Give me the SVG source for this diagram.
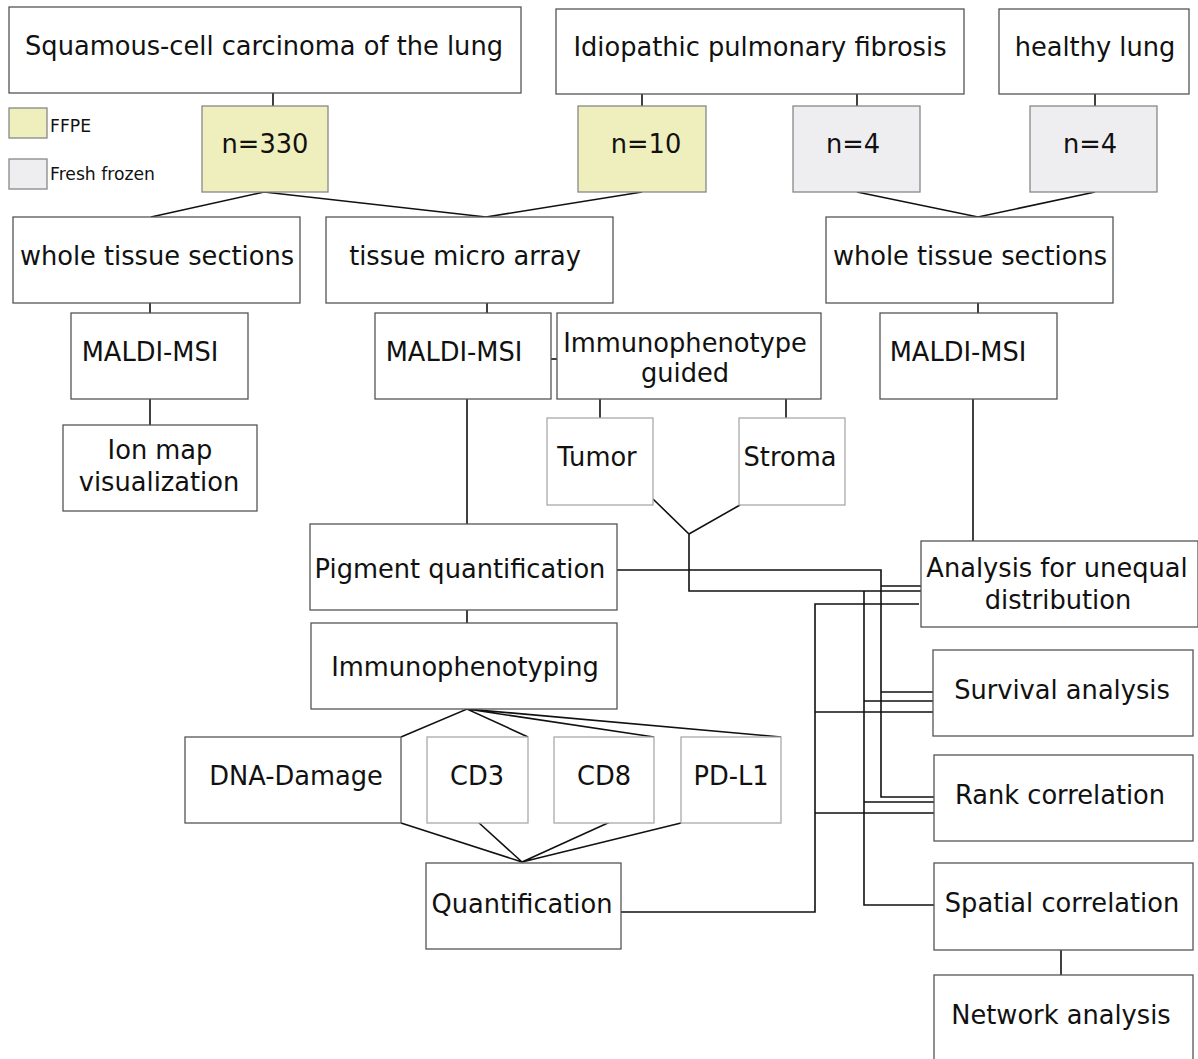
<svg xmlns="http://www.w3.org/2000/svg" width="1198" height="1059" viewBox="0 0 1198 1059">
<style>
.b{fill:#fff;stroke:#555;stroke-width:1.3}
.l{fill:#fff;stroke:#aaa;stroke-width:1.3}
.ffpe{fill:#efefbe;stroke:#888;stroke-width:1.3}
.ff{fill:#eeeef0;stroke:#888;stroke-width:1.3}
text{font-family:"DejaVu Sans",Verdana,sans-serif;font-size:25.7px;fill:#111;text-anchor:middle}
.sm{font-size:17.2px;text-anchor:start}
.c{fill:none;stroke:#111;stroke-width:1.6}
</style>
<rect width="1198" height="1059" fill="#fff"/>
<g id="connectors" class="c">
<path d="M273 93V106M642 94V106M857 94V106M1095 94V106"/>
<path d="M151 217L264 192L486 217L642 192"/>
<path d="M857 192L978 217L1095 192"/>
<path d="M150 303V313M487 303V313M978 303V313"/>
<path d="M150 399V425"/>
<path d="M551 359H557"/>
<path d="M600 399V418M786 399V418"/>
<path d="M467 399V524M467 610V623"/>
<path d="M973 399V541"/>
<path d="M401 737L467 709L528 737M467 709L654 737M467 709L781 737"/>
<path d="M401 823L522 862L478 822M522 862L610 822M522 862L681 823"/>
<path d="M653 499L689 534L740 505M689 534V591H921"/>
<path d="M617 570H881V797H934M881 586H921M881 692H933"/>
<path d="M864 591V905H934M864 701H933M864 802H934"/>
<path d="M621 912H815V604H919M815 712H933M815 813H934"/>
<path d="M1061 950V975"/>
</g>
<g id="legend">
<rect x="9" y="108" width="38" height="30" class="ffpe"/>
<text x="50" y="132" class="sm">FFPE</text>
<rect x="9" y="159" width="38" height="30" class="ff"/>
<text x="50" y="180" class="sm">Fresh frozen</text>
</g>
<g id="squamous"><rect x="9" y="7" width="512" height="86" class="b"/><text x="264" y="55">Squamous-cell carcinoma of the lung</text></g>
<g id="ipf"><rect x="556" y="9" width="408" height="85" class="b"/><text x="760" y="56">Idiopathic pulmonary fibrosis</text></g>
<g id="healthy"><rect x="999" y="9" width="190" height="85" class="b"/><text x="1095" y="56">healthy lung</text></g>
<g id="n330"><rect x="202" y="106" width="126" height="86" class="ffpe"/><text x="265" y="153">n=330</text></g>
<g id="n10"><rect x="578" y="106" width="128" height="86" class="ffpe"/><text x="646" y="153">n=10</text></g>
<g id="n4a"><rect x="793" y="106" width="127" height="86" class="ff"/><text x="853" y="153">n=4</text></g>
<g id="n4b"><rect x="1030" y="106" width="127" height="86" class="ff"/><text x="1090" y="153">n=4</text></g>
<g id="wts1"><rect x="13" y="217" width="287" height="86" class="b"/><text x="157" y="265">whole tissue sections</text></g>
<g id="tma"><rect x="326" y="217" width="287" height="86" class="b"/><text x="465" y="265">tissue micro array</text></g>
<g id="wts2"><rect x="826" y="217" width="287" height="86" class="b"/><text x="970" y="265">whole tissue sections</text></g>
<g id="maldi1"><rect x="71" y="313" width="177" height="86" class="b"/><text x="150" y="361">MALDI-MSI</text></g>
<g id="maldi2"><rect x="375" y="313" width="176" height="86" class="b"/><text x="454" y="361">MALDI-MSI</text></g>
<g id="immunoguided"><rect x="557" y="313" width="264" height="86" class="b"/><text x="685" y="352">Immunophenotype</text><text x="685" y="382">guided</text></g>
<g id="maldi3"><rect x="880" y="313" width="177" height="86" class="b"/><text x="958" y="361">MALDI-MSI</text></g>
<g id="ionmap"><rect x="63" y="425" width="194" height="86" class="b"/><text x="160" y="459">Ion map</text><text x="159" y="491">visualization</text></g>
<g id="tumor"><rect x="547" y="418" width="106" height="87" class="l"/><text x="597" y="466">Tumor</text></g>
<g id="stroma"><rect x="739" y="418" width="106" height="87" class="l"/><text x="790" y="466">Stroma</text></g>
<g id="pigment"><rect x="310" y="524" width="307" height="86" class="b"/><text x="460" y="578">Pigment quantification</text></g>
<g id="analysis"><rect x="921" y="541" width="277" height="86" class="b"/><text x="1057" y="577">Analysis for unequal</text><text x="1058" y="609">distribution</text></g>
<g id="immunotyping"><rect x="311" y="623" width="306" height="86" class="b"/><text x="465" y="676">Immunophenotyping</text></g>
<g id="survival"><rect x="933" y="650" width="260" height="86" class="b"/><text x="1062" y="699">Survival analysis</text></g>
<g id="dna"><rect x="185" y="737" width="216" height="86" class="b"/><text x="296" y="785">DNA-Damage</text></g>
<g id="cd3"><rect x="427" y="737" width="101" height="86" class="l"/><text x="477" y="785">CD3</text></g>
<g id="cd8"><rect x="554" y="737" width="100" height="86" class="l"/><text x="604" y="785">CD8</text></g>
<g id="pdl1"><rect x="681" y="737" width="100" height="86" class="l"/><text x="731" y="785">PD-L1</text></g>
<g id="rank"><rect x="934" y="755" width="259" height="86" class="b"/><text x="1060" y="804">Rank correlation</text></g>
<g id="quant"><rect x="426" y="863" width="195" height="86" class="b"/><text x="522" y="913">Quantification</text></g>
<g id="spatial"><rect x="934" y="863" width="259" height="87" class="b"/><text x="1062" y="912">Spatial correlation</text></g>
<g id="network"><rect x="934" y="975" width="259" height="100" class="b"/><text x="1061" y="1024">Network analysis</text></g>
</svg>
